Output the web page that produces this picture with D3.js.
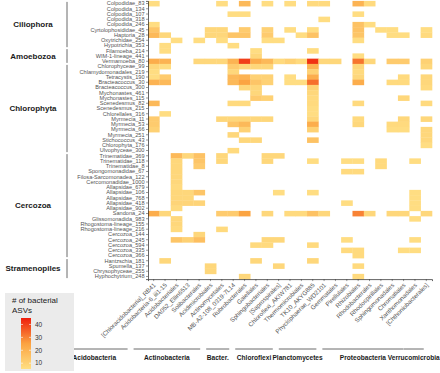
<!DOCTYPE html>
<html>
<head>
<meta charset="utf-8">
<script src="https://cdn.jsdelivr.net/npm/d3@7"></script>
<style>
  body { margin: 0; background: #fff; }
  svg { display: block; font-family: "Liberation Sans", Arial, sans-serif; }
</style>
</head>
<body>
<div id="chart"></div>
<script>
// ---- data ----
var rowLabels = ["Colpodidae_83","Colpodida_134","Colpodida_107","Colpodida_318","Colpodida_246",
  "Cyrtolophosididae_45","Haptoria_28","Oxytrichidae_254","Hypotrichia_353",
  "Filamoeba_214","WIM-1-lineage_441","Vermamoeba_80",
  "Chlorophyceae_99","Chlamydomonadales_219","Tetracystis_190","Bracteacoccus_30","Bracteacoccus_300",
  "Mychonastes_461","Mychonastes_115","Scenedesmus_82","Scenedesmus_215","Chlorellales_316",
  "Myrmecia_11","Myrmecia_53","Myrmecia_66","Myrmecia_251","Stichococcus_43","Chlorophyta_176","Ulvophyceae_300",
  "Trinematidae_369","Trinematidae_118","Trinematidae_8","Spongomonadidae_67","Filosa-Sarcomonadea_122",
  "Cercomonadidae_1000","Allapsidae_679","Allapsidae_106","Allapsidae_768","Allapsidae_418","Allapsidae_902",
  "Sandona_24","Glissomonadida_983","Rhogostoma-lineage_155","Rhogostoma-lineage_216",
  "Cercozoa_144","Cercozoa_245","Cercozoa_594","Cercozoa_335","Cercozoa_366",
  "Hantzschia_181","Spumella_137","Chrysophyceae_255","Hyphochytrium_248"];

var sectionNames = ["Ciliophora","Amoebozoa","Chlorophyta","Cercozoa","Stramenopiles"];
var sectionSizes = [9, 3, 17, 20, 4];

var colLabels = ["[Chloracidobacteria]_RB41","Acidobacteria-6_iii1-15","Acidobacteriales","DA052_Ellin6513",
  "Solibacterales","Acidimicrobiales","Actinomycetales","MB-A2-108_0319-7L14","Rubrobacterales","Gaiellales",
  "Sphingobacteriales","[Saprospirales]","Chloroflexi_AKIW781","Thermomicrobiales","TK10_AKYG885",
  "Phycisphaerae_WD2101","Gemmatales","Pirellulales",
  "Rhizobiales","Rhodobacterales","Rhodospirillales","Sphingomonadales","Chromatiales",
  "Xanthomonadales","[Chthoniobacterales]"];

var phylumNames = ["Acidobacteria","Actinobacteria","Bacter.","Chloroflexi","Planctomycetes","Proteobacteria","Verrucomicrobia"];
var phylumSizes = [5, 5, 2, 3, 3, 6, 1];

// number of bacterial ASVs per protist ASV (rows) x bacterial order (columns); 0 = none
var asvCounts = [
  [6,0,0,0,0, 0,6,0,18,0, 6,0,6,0,7, 7,0,0,20,7, 0,0,0,0,0],
  [0,0,0,0,0, 0,0,0,0,0, 0,0,0,0,0, 0,0,0,0,0, 0,0,0,0,0],
  [0,0,0,0,0, 0,0,6,6,0, 0,0,0,0,0, 0,0,0,6,0, 0,0,0,0,0],
  [0,0,0,0,0, 0,0,0,0,0, 0,0,0,0,0, 6,0,0,0,0, 0,0,0,0,0],
  [6,0,0,0,0, 0,0,0,0,0, 0,0,0,0,0, 0,0,0,15,6, 0,0,0,0,0],
  [14,0,0,0,0, 8,8,0,12,0, 10,0,6,0,6, 0,0,0,15,0, 6,6,0,0,6],
  [18,8,0,0,0, 8,8,14,14,0, 12,0,0,6,15, 0,0,0,14,0, 0,6,6,0,7],
  [0,0,6,0,6, 0,6,0,0,0, 6,6,0,0,0, 0,0,0,6,0, 0,0,0,0,0],
  [0,6,0,0,0, 0,0,6,0,0, 0,0,0,0,0, 0,0,0,0,0, 0,0,0,0,0],
  [0,6,0,0,0, 0,0,0,0,6, 0,0,0,0,6, 0,0,0,0,0, 0,0,0,0,0],
  [0,0,0,0,0, 0,0,0,0,8, 0,0,0,0,0, 0,0,0,6,0, 0,0,0,0,0],
  [22,20,0,0,8, 8,8,20,40,22, 18,7,10,7,42, 8,8,0,32,8, 0,12,12,0,10],
  [8,6,0,0,0, 0,0,12,8,8, 8,0,0,0,20, 0,0,0,8,0, 0,0,0,0,8],
  [6,0,0,0,0, 0,0,8,0,0, 0,0,0,0,10, 0,0,0,7,0, 0,0,0,0,0],
  [6,12,0,0,0, 0,0,18,20,10, 10,0,6,0,22, 0,0,0,8,0, 0,0,7,0,8],
  [20,18,0,0,0, 0,0,18,25,14, 10,0,6,6,33, 0,0,0,22,0, 0,7,7,0,8],
  [0,0,0,0,0, 0,0,0,8,8, 0,0,0,0,10, 0,0,0,0,0, 0,0,0,0,7],
  [0,0,0,0,0, 0,0,0,0,8, 0,0,0,0,8, 0,0,0,0,0, 0,0,0,0,0],
  [0,0,0,0,0, 0,0,0,0,12, 10,0,0,0,7, 0,0,0,0,0, 0,0,8,0,0],
  [18,0,0,0,0, 0,0,7,7,0, 0,0,0,0,7, 0,0,0,7,0, 0,0,0,0,7],
  [0,0,0,0,0, 0,0,0,0,0, 0,0,0,0,6, 0,0,0,0,0, 0,0,0,0,0],
  [0,6,0,0,0, 0,0,0,0,0, 0,0,0,0,6, 0,0,0,0,0, 0,0,0,0,0],
  [12,0,0,0,0, 0,8,8,8,8, 8,0,0,0,8, 0,0,0,7,0, 0,0,8,0,8],
  [12,0,0,0,0, 0,0,14,18,0, 0,0,0,0,22, 0,0,0,8,0, 0,7,7,0,0],
  [10,0,0,0,0, 0,0,0,10,0, 0,0,0,0,10, 0,0,0,0,0, 0,6,6,0,8],
  [0,0,0,0,0, 0,0,8,0,0, 0,0,0,0,0, 0,0,0,0,0, 0,0,0,0,8],
  [0,0,0,0,0, 0,0,0,8,8, 0,0,0,0,15, 0,0,0,0,0, 0,0,0,0,8],
  [0,0,0,0,0, 0,0,0,0,0, 0,0,0,0,0, 0,0,0,0,0, 0,0,0,0,6],
  [0,0,0,0,0, 0,0,7,0,0, 0,0,0,0,0, 0,0,0,0,0, 0,0,0,0,0],
  [0,0,18,8,15, 0,8,0,0,0, 8,8,0,0,0, 0,0,0,0,0, 0,0,0,0,0],
  [0,0,8,0,14, 0,8,0,0,0, 8,0,0,0,6, 0,0,6,6,0, 7,0,0,6,0],
  [0,0,8,0,12, 0,0,0,0,0, 0,0,0,0,0, 0,0,0,0,0, 7,0,0,0,0],
  [0,0,8,0,0, 0,0,0,0,0, 0,0,0,0,0, 0,0,7,7,0, 0,0,0,0,0],
  [0,0,8,0,0, 0,0,0,0,0, 0,0,0,0,0, 0,0,0,0,0, 0,0,0,0,0],
  [0,0,8,0,0, 0,0,0,0,0, 0,0,0,0,0, 0,0,0,0,0, 0,0,0,0,0],
  [0,0,7,0,0, 0,0,0,0,0, 0,0,0,0,0, 0,0,0,0,0, 0,0,0,0,0],
  [0,0,8,8,14, 0,0,0,0,0, 0,6,0,0,6, 0,0,0,0,0, 0,0,0,6,0],
  [0,0,8,8,0, 0,0,0,0,0, 0,0,0,0,0, 0,0,0,0,0, 0,0,0,6,0],
  [0,0,9,9,9, 0,0,0,0,0, 0,0,0,0,0, 0,0,6,0,0, 0,0,0,6,0],
  [0,0,7,0,0, 0,0,0,0,0, 0,0,0,0,0, 0,0,0,0,0, 0,0,0,6,0],
  [22,8,0,0,0, 0,12,12,25,0, 8,0,7,7,15, 8,0,0,30,8, 0,8,8,0,8],
  [0,0,8,0,0, 0,0,0,0,0, 0,0,0,0,0, 0,0,0,0,0, 0,0,0,6,0],
  [0,0,8,0,0, 0,0,0,0,0, 0,0,0,0,0, 0,0,0,0,0, 0,0,0,0,0],
  [0,0,7,0,0, 0,7,0,0,0, 0,0,0,0,0, 0,0,0,0,0, 0,0,0,0,0],
  [0,0,0,0,8, 0,0,0,0,0, 0,0,0,0,0, 0,0,0,0,0, 0,0,0,0,0],
  [0,0,14,10,16, 0,0,0,0,0, 8,8,0,0,0, 0,0,6,0,0, 0,0,0,6,0],
  [0,0,0,0,0, 0,0,0,0,7, 7,0,0,0,7, 0,0,0,0,0, 0,0,0,0,0],
  [0,0,0,0,0, 0,0,0,0,0, 0,0,0,0,0, 0,0,7,7,0, 0,0,6,6,0],
  [0,0,0,0,0, 0,0,0,0,0, 0,0,0,0,0, 0,0,0,7,0, 0,0,0,0,0],
  [0,8,0,0,0, 0,0,0,0,8, 0,0,0,0,8, 0,0,0,0,0, 0,0,0,0,0],
  [0,0,0,0,0, 8,0,0,0,0, 0,8,0,0,0, 0,0,0,7,0, 0,0,0,0,0],
  [0,0,0,0,0, 8,0,0,0,0, 0,0,0,0,0, 0,0,0,0,0, 0,0,0,0,0],
  [0,0,0,0,0, 0,0,0,8,0, 0,0,0,0,0, 0,0,0,7,0, 0,0,0,0,0]
];

var legendTicks = [10, 20, 30, 40];

asvCounts.forEach(function (r, i) {
  if (r.length !== colLabels.length) throw new Error("row " + i + " has " + r.length + " values");
});
if (asvCounts.length !== rowLabels.length) throw new Error("row count " + asvCounts.length);

// ---- layout ----
var W = 440, H = 373;
var plot = {left: 148, right: 432, top: 0.9, bottom: 279.1};

var svg = d3.select("#chart").append("svg")
  .attr("width", W).attr("height", H);

var x = d3.scaleBand().domain(colLabels).range([plot.left, plot.right]);
var y = d3.scaleBand().domain(rowLabels).range([plot.top, plot.bottom]);

var color = d3.scaleLinear()
  .domain([5, 25, 45])
  .range(["#ffe085", "#fba442", "#ee1d0c"])
  .clamp(true);

var cells = [];
asvCounts.forEach(function (r, i) {
  r.forEach(function (v, j) {
    if (v > 0) cells.push({row: rowLabels[i], col: colLabels[j], value: v});
  });
});

svg.append("g").selectAll("rect")
  .data(cells)
  .enter().append("rect")
  .attr("x", function (d) { return x(d.col); })
  .attr("y", function (d) { return y(d.row); })
  .attr("width", x.bandwidth() + 0.3)
  .attr("height", y.bandwidth() + 0.3)
  .attr("fill", function (d) { return color(d.value); });

// axes
var yAxis = svg.append("g")
  .attr("transform", "translate(" + plot.left + ",0)")
  .call(d3.axisLeft(y).tickSize(2).tickPadding(1.5));
yAxis.selectAll("text").attr("font-size", 5.6).attr("fill", "#555");

var xAxis = svg.append("g")
  .attr("transform", "translate(0," + plot.bottom + ")")
  .call(d3.axisBottom(x).tickSize(2).tickPadding(1));
xAxis.selectAll("text")
  .attr("font-size", 6.2).attr("fill", "#555")
  .attr("text-anchor", "end")
  .attr("dy", "0.3em")
  .attr("transform", "translate(-1,3) rotate(-45)");

[yAxis, xAxis].forEach(function (a) {
  a.selectAll(".domain").attr("stroke", "#222").attr("stroke-width", 0.7);
  a.selectAll(".tick line").attr("stroke", "#333").attr("stroke-width", 0.5);
});

// protist group brackets on the left
var bounds = [0];
sectionSizes.forEach(function (n, i) { bounds.push(bounds[i] + n); });
var sec = svg.append("g");
sectionNames.forEach(function (name, i) {
  var y0 = y(rowLabels[bounds[i]]) + 1;
  var y1 = y(rowLabels[bounds[i + 1] - 1]) + y.bandwidth() - 1;
  sec.append("line")
    .attr("x1", 67).attr("x2", 67)
    .attr("y1", y0).attr("y2", y1)
    .attr("stroke", "#444").attr("stroke-width", 0.8);
  sec.append("text")
    .attr("x", 33).attr("y", (y0 + y1) / 2)
    .attr("dy", "0.35em")
    .attr("text-anchor", "middle")
    .attr("font-size", 8).attr("font-weight", "bold")
    .attr("fill", "#1a1a1a")
    .text(name);
});

// bacterial phylum bars below the labels (separate, wider panel)
var xa = d3.scaleLinear().domain([0, colLabels.length]).range([58, 421]);
var pb = [0];
phylumSizes.forEach(function (n, i) { pb.push(pb[i] + n); });
var ph = svg.append("g");
phylumNames.forEach(function (name, i) {
  var a0 = xa(pb[i]) + 3, a1 = xa(pb[i + 1]) - 3;
  if (a1 - a0 < 20) { var m = (a0 + a1) / 2; a0 = m - 10; a1 = m + 10; }
  ph.append("line")
    .attr("x1", a0).attr("x2", a1)
    .attr("y1", 349).attr("y2", 349)
    .attr("stroke", "#444").attr("stroke-width", 0.8);
  ph.append("text")
    .attr("x", (xa(pb[i]) + xa(pb[i + 1])) / 2).attr("y", 360)
    .attr("text-anchor", "middle")
    .attr("font-size", 6.6).attr("font-weight", "bold")
    .attr("fill", "#1a1a1a")
    .text(name);
});

// legend
var lg = svg.append("g");
lg.append("rect")
  .attr("x", 5).attr("y", 293).attr("width", 69).attr("height", 78)
  .attr("fill", "#ebebeb");
lg.append("text").attr("x", 12).attr("y", 303)
  .attr("font-size", 8).attr("fill", "#1a1a1a").text("# of bacterial");
lg.append("text").attr("x", 12).attr("y", 313)
  .attr("font-size", 8).attr("fill", "#1a1a1a").text("ASVs");

var ly = d3.scaleLinear().domain([5.5, 45]).range([369, 318]);
var grad = svg.append("defs").append("linearGradient")
  .attr("id", "lgrad").attr("x1", 0).attr("x2", 0).attr("y1", 1).attr("y2", 0);
d3.range(0, 1.0001, 0.1).forEach(function (t) {
  var v = ly.domain()[0] + t * (ly.domain()[1] - ly.domain()[0]);
  grad.append("stop").attr("offset", t).attr("stop-color", color(v));
});
lg.append("rect")
  .attr("x", 21).attr("y", ly(45)).attr("width", 10).attr("height", ly(5.5) - ly(45))
  .attr("fill", "url(#lgrad)");
legendTicks.forEach(function (t) {
  lg.append("line").attr("x1", 21).attr("x2", 23).attr("y1", ly(t)).attr("y2", ly(t))
    .attr("stroke", "#fff").attr("stroke-width", 0.6);
  lg.append("line").attr("x1", 29).attr("x2", 31).attr("y1", ly(t)).attr("y2", ly(t))
    .attr("stroke", "#fff").attr("stroke-width", 0.6);
  lg.append("text").attr("x", 35).attr("y", ly(t)).attr("dy", "0.35em")
    .attr("font-size", 6.5).attr("fill", "#333").text(t);
});
</script>
</body>
</html>
